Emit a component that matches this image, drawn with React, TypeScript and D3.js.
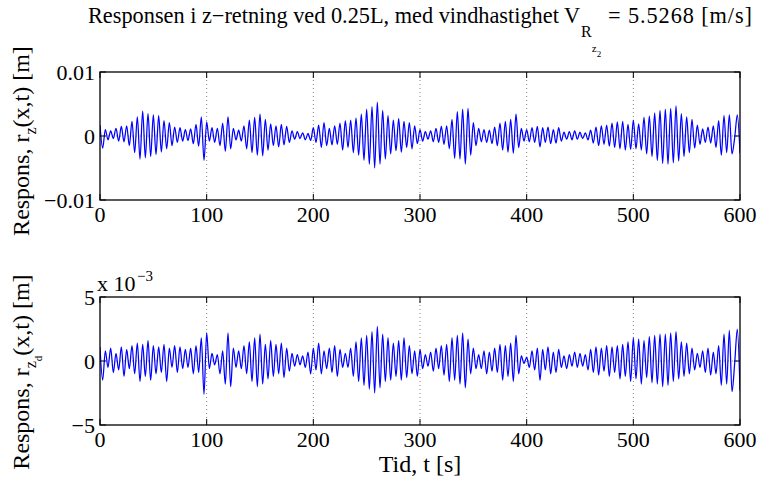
import React from "react";
import * as d3 from "d3";

// sample spacing of the read-off extrema [s]
const SAMPLE_STEP = 2.5;

// upper panel response, in 1e-3 m
const topResponse = [
  1.7, -1.9, 1.0, -0.6, 0.8, -0.4, 1.2, -0.8, 1.5, -0.9, 1.6, -1.5,
  2.3, -2.6, 3.0, -3.6, 3.9, -3.4, 3.5, -3.2, 3.3, -2.9, 3.2, -2.5,
  2.4, -2.0, 2.1, -1.5, 1.4, -1.0, 1.3, -0.8, 1.0, -0.7, 1.1, -1.2,
  1.8, -1.6, 3.0, -3.8, 2.2, -0.8, 1.3, -1.0, 1.2, -1.5, 2.0, -2.4,
  3.0, -2.0, 1.2, -0.6, 0.9, -0.8, 1.6, -2.0, 2.5, -2.6, 2.9, -3.0,
  3.4, -3.1, 2.6, -2.2, 1.9, -1.5, 1.6, -1.7, 1.8, -1.4, 1.5, -1.0,
  0.8, -0.5, 0.7, -0.4, 0.5, -0.6, 0.4, -0.7, 1.3, -1.0, 1.7, -1.8,
  2.1, -1.5, 1.2, -1.4, 1.6, -1.3, 2.0, -2.2, 2.4, -1.8, 2.5, -2.6,
  2.8, -3.0, 3.4, -3.8, 4.2, -4.4, 4.6, -5.0, 5.3, -4.4, 4.0, -3.6,
  3.2, -2.8, 2.5, -2.3, 2.7, -2.5, 2.3, -1.8, 2.1, -2.0, 1.6, -1.2,
  1.0, -0.8, 0.7, -0.5, 0.8, -0.9, 1.2, -1.0, 1.5, -1.3, 1.6, -2.0,
  2.6, -3.5, 3.8, -3.6, 4.2, -4.4, 4.3, -3.0, 2.1, -1.5, 1.2, -0.9,
  1.0, -1.0, 0.9, -1.2, 1.4, -1.5, 2.0, -2.2, 2.3, -2.5, 2.6, -2.7,
  3.4, -1.8, 1.2, -0.8, 1.0, -0.9, 1.3, -1.0, 1.5, -1.7, 1.3, -1.0,
  1.4, -1.2, 1.0, -1.1, 1.3, -0.8, 0.6, -0.5, 0.7, -0.6, 0.8, -0.5,
  0.6, -0.4, 0.5, -0.6, 0.9, -1.1, 1.4, -1.5, 1.6, -1.3, 1.7, -1.6,
  2.0, -1.8, 2.2, -2.0, 2.3, -2.2, 1.8, -2.1, 2.5, -2.0, 1.9, -2.2,
  2.9, -2.8, 3.1, -3.2, 3.6, -3.8, 4.0, -4.3, 4.2, -4.4, 4.3, -4.2,
  4.7, -3.9, 3.5, -3.2, 3.0, -2.6, 2.6, -1.9, 1.7, -1.3, 1.1, -1.0,
  1.4, -1.1, 1.6, -1.8, 2.4, -3.0, 3.2, -2.6, 3.3, -2.8, -0.3, 3.3,
  -2.7,
];

// lower panel response, in 1e-3 m
const bottomResponse = [
  1.1, -1.5, 0.8, -0.5, 1.0, -0.9, 0.6, -0.7, 1.1, -1.2, 0.9, -0.6,
  1.2, -1.0, 1.4, -1.6, 1.3, -1.2, 1.6, -1.5, 1.2, -1.0, 1.1, -0.9,
  1.3, -1.6, 1.0, -0.5, 1.2, -0.9, 1.1, -0.6, 0.9, -0.5, 1.0, -1.0,
  1.2, -0.9, 1.8, -2.6, 2.2, -0.6, 0.6, -0.3, 0.5, -1.0, 0.8, -1.8,
  2.2, -2.0, 1.0, -0.5, 0.8, -0.6, 1.2, -1.0, 1.5, -1.6, 1.8, -2.0,
  2.1, -1.8, 1.3, -1.4, 1.6, -1.2, 1.3, -1.0, 1.4, -1.3, 1.0, -0.8,
  0.6, -0.4, 0.5, -0.3, 0.4, -0.5, 0.7, -1.0, 1.0, -0.7, 1.4, -1.0,
  0.8, -0.6, 1.0, -0.9, 1.2, -1.2, 0.9, -0.5, 0.6, -0.5, 1.0, -1.2,
  1.5, -1.6, 1.8, -1.9, 2.0, -2.2, 2.3, -2.5, 2.7, -2.1, 2.1, -1.6,
  1.8, -1.5, 1.4, -1.2, 1.6, -1.5, 1.8, -1.3, 1.2, -1.0, 0.8, -1.2,
  0.9, -0.6, 0.5, -0.4, 0.7, -0.8, 1.0, -0.6, 1.2, -1.1, 1.3, -1.6,
  1.8, -1.5, 2.0, -1.8, 2.2, -2.1, 1.7, -1.0, 1.0, -0.6, 0.5, -0.6,
  0.8, -1.0, 0.7, -0.8, 1.0, -0.9, 1.3, -1.5, 1.2, -1.2, 1.4, -1.6,
  2.0, -1.0, 0.4, -0.2, 0.3, -0.5, 0.8, -0.7, 1.0, -1.5, 0.9, -0.7,
  1.1, -1.0, 0.7, -0.9, 0.9, -0.5, 0.4, -0.6, 0.5, -0.4, 0.7, -0.5,
  0.6, -0.4, 0.5, -0.7, 0.9, -0.9, 1.1, -1.1, 1.0, -0.8, 1.2, -1.2,
  1.1, -0.9, 1.2, -1.4, 1.3, -1.2, 1.5, -1.6, 1.8, -1.4, 1.7, -1.8,
  1.6, -1.3, 1.9, -1.7, 2.0, -1.8, 2.1, -2.0, 2.1, -1.9, 2.2, -1.6,
  2.3, -1.4, 1.5, -1.2, 1.4, -1.0, 1.0, -0.7, 0.6, -0.5, 0.8, -0.9,
  1.0, -1.1, 0.7, -1.0, 1.2, -1.9, 2.1, -1.8, 2.4, -2.4, -0.2, 2.5,
  -2.3,
];

const xTicks = [0, 100, 200, 300, 400, 500, 600];
const xGridTicks = [100, 200, 300, 400, 500];
const topYTicks = [-10, 0, 10];
const topYTickLabels = ["\u22120.01", "0", "0.01"];
const bottomYTicks = [-5, 0, 5];
const bottomYTickLabels = ["\u22125", "0", "5"];

const FONT = "Liberation Serif, Times New Roman, serif";
const FS = 22;
const LFS = 24;
const W = 761;
const H = 479;
const LEFT = 100;
const RIGHT = 740;

type PanelProps = {
  top: number;
  bottom: number;
  values: number[];
  domain: [number, number];
  yTicks: number[];
  yTickLabels: string[];
};

function Panel({ top, bottom, values, domain, yTicks, yTickLabels }: PanelProps) {
  const x = d3.scaleLinear().domain([0, 600]).range([LEFT, RIGHT]);
  const y = d3.scaleLinear().domain(domain).range([bottom, top]);
  const pts: [number, number][] = values.map((v, i) => [i * SAMPLE_STEP, v]);
  const line = d3
    .line<[number, number]>()
    .x((d) => x(d[0]))
    .y((d) => y(d[1]))
    .curve(d3.curveMonotoneX);
  const tick = 6;
  return (
    <g>
      <rect x={LEFT} y={top} width={RIGHT - LEFT} height={bottom - top} fill="#fff" />
      {xGridTicks.map((t) => (
        <line key={"g" + t} x1={x(t)} x2={x(t)} y1={top} y2={bottom}
          stroke="#888" strokeWidth={1} strokeDasharray="1,3" />
      ))}
      <line x1={LEFT} x2={RIGHT} y1={y(0)} y2={y(0)} stroke="#888" strokeWidth={1} strokeDasharray="1,3" />
      <defs>
        <clipPath id={"clip" + top}>
          <rect x={LEFT} y={top} width={RIGHT - LEFT} height={bottom - top} />
        </clipPath>
      </defs>
      <path d={line(pts) || ""} fill="none" stroke="#0000ff" strokeWidth={1.25}
        strokeLinejoin="round" clipPath={`url(#clip${top})`} />
      {xTicks.map((t) => (
        <g key={"t" + t}>
          <line x1={x(t)} x2={x(t)} y1={bottom} y2={bottom - tick} stroke="#000" />
          <line x1={x(t)} x2={x(t)} y1={top} y2={top + tick} stroke="#000" />
          <text x={x(t)} y={bottom + 22} textAnchor="middle" fontSize={FS}
            style={{ fontFamily: FONT }}>
            {t}
          </text>
        </g>
      ))}
      {yTicks.map((t, i) => (
        <g key={"y" + t}>
          <line x1={LEFT} x2={LEFT + tick} y1={y(t)} y2={y(t)} stroke="#000" />
          <line x1={RIGHT} x2={RIGHT - tick} y1={y(t)} y2={y(t)} stroke="#000" />
          <text x={LEFT - 5} y={y(t) + 8} textAnchor="end" fontSize={FS}
            style={{ fontFamily: FONT }}>
            {yTickLabels[i]}
          </text>
        </g>
      ))}
      <rect x={LEFT} y={top} width={RIGHT - LEFT} height={bottom - top} fill="none"
        stroke="#000" strokeWidth={1.3} />
    </g>
  );
}

export default function App() {
  const f = { fontFamily: FONT };
  return (
    <svg width={W} height={H} style={{ position: "absolute", left: 0, top: 0, background: "#fff" }}>
      <rect width={W} height={H} fill="#fff" />
      {/* title */}
      <text x={88} y={23} fontSize={22.3} style={f}>
        Responsen i z{"\u2212"}retning ved 0.25L, med vindhastighet V
        <tspan dx={1} dy={14} fontSize={16}>R</tspan>
        <tspan dx={0} dy={15} fontSize={11}>z</tspan>
        <tspan dy={5} fontSize={9}>2</tspan>
      </text>
      <text x={608} y={23} fontSize={22.3} textLength={144} lengthAdjust="spacing" style={f}>
        = 5.5268 [m/s]
      </text>

      <Panel top={72} bottom={200} values={topResponse} domain={[-10, 10]}
        yTicks={topYTicks} yTickLabels={topYTickLabels} />
      <Panel top={297} bottom={425} values={bottomResponse} domain={[-5, 5]}
        yTicks={bottomYTicks} yTickLabels={bottomYTickLabels} />

      {/* exponent */}
      <text x={97} y={291} fontSize={FS} style={f}>x 10</text>
      <text x={137} y={281} fontSize={15} style={f}>{"\u2212"}3</text>

      {/* y labels */}
      <text transform="translate(29,141) rotate(-90)" textAnchor="middle" fontSize={LFS} style={f}>
        Respons, r<tspan dy={7} fontSize={16}>z</tspan>
        <tspan dy={-7}>(x,t) [m]</tspan>
      </text>
      <text transform="translate(29,372) rotate(-90)" textAnchor="middle" fontSize={LFS} style={f}>
        Respons, r<tspan dy={7} fontSize={16}>z</tspan>
        <tspan dy={6} fontSize={11}>d</tspan>
        <tspan dy={-13}>(x,t) [m]</tspan>
      </text>

      {/* x label */}
      <text x={420} y={472} textAnchor="middle" fontSize={LFS} style={f}>Tid, t [s]</text>
    </svg>
  );
}
